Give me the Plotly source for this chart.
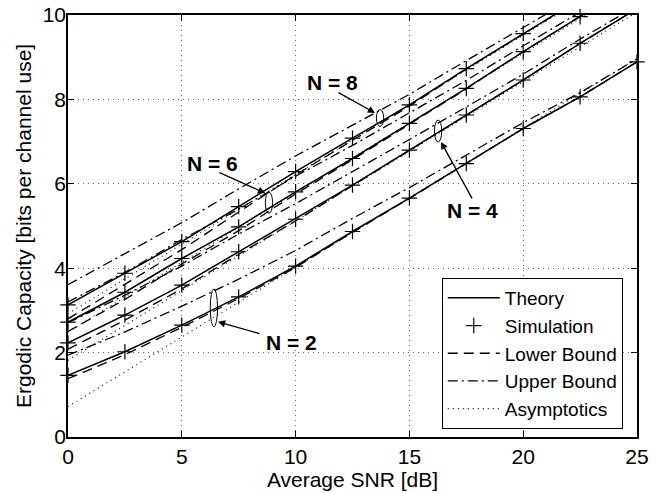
import plotly.graph_objects as go

# ---------------- data ----------------
SNR_DB = [0, 2.5, 5, 7.5, 10, 12.5, 15, 17.5, 20, 22.5, 25]

THEORY_N2 = [1.46, 2.02, 2.65, 3.32, 4.05, 4.87, 5.66, 6.48, 7.31, 8.06, 8.89]
THEORY_N4 = [2.23, 2.89, 3.60, 4.39, 5.16, 5.97, 6.80, 7.63, 8.46, 9.33, 10.15]
THEORY_N6 = [2.72, 3.43, 4.23, 4.98, 5.81, 6.60, 7.43, 8.26, 9.13, 9.96, 10.80]
THEORY_N8 = [3.13, 3.88, 4.63, 5.46, 6.29, 7.08, 7.87, 8.73, 9.56, 10.40, 11.20]

SIM_N2 = [1.46, 2.02, 2.65, 3.32, 4.05, 4.87, 5.66, 6.48, 7.31, 8.06, 8.89]
SIM_N4 = [2.23, 2.89, 3.60, 4.39, 5.16, 5.97, 6.80, 7.63, 8.46, 9.33, None]
SIM_N6 = [2.72, 3.43, 4.23, 4.98, 5.81, 6.60, 7.43, 8.26, 9.13, 9.96, None]
SIM_N8 = [3.13, 3.88, 4.63, 5.46, 6.29, 7.08, 7.87, 8.73, 9.56, None, None]

LOWER_N2 = [1.38, 1.95, 2.60, 3.28, 4.02, 4.85, 5.65, 6.48, 7.31, 8.06, 8.89]
LOWER_N4 = [2.08, 2.77, 3.51, 4.33, 5.12, 5.95, 6.78, 7.62, 8.46, 9.33, 10.15]
LOWER_N6 = [2.50, 3.26, 4.10, 4.89, 5.76, 6.57, 7.41, 8.25, 9.13, 9.96, 10.80]
LOWER_N8 = [2.80, 3.62, 4.44, 5.33, 6.21, 7.03, 7.84, 8.72, 9.56, 10.40, 11.20]

UPPER_N2 = [1.94, 2.49, 3.10, 3.74, 4.42, 5.18, 5.91, 6.67, 7.45, 8.16, 8.96]
UPPER_N4 = [2.71, 3.36, 4.05, 4.81, 5.53, 6.28, 7.05, 7.82, 8.60, 9.43, 10.22]
UPPER_N6 = [3.20, 3.90, 4.68, 5.40, 6.18, 6.91, 7.68, 8.45, 9.27, 10.06, 10.87]
UPPER_N8 = [3.61, 4.35, 5.08, 5.88, 6.66, 7.39, 8.12, 8.92, 9.70, 10.50, 11.27]

ASYM_SNR = [0, 5, 10, 15, 20, 25]
ASYM_N2 = [0.72, 2.37, 4.02, 5.67, 7.32, 8.97]
ASYM_N4 = [1.82, 3.47, 5.12, 6.77, 8.42, 10.07]
ASYM_N6 = [2.49, 4.14, 5.79, 7.44, 9.09, 10.74]
ASYM_N8 = [2.92, 4.57, 6.22, 7.87, 9.52, 11.17]

N_LABELS = ["N = 2", "N = 4", "N = 6", "N = 8"]
X_TICKS = [0, 5, 10, 15, 20, 25]
Y_TICKS = [0, 2, 4, 6, 8, 10]

# ---------------- figure ----------------
FONT = "Liberation Sans, Arial, Helvetica, sans-serif"
fig = go.Figure()

def add_group(ys_list, xs, name, rank, **style):
    for i, ys in enumerate(ys_list):
        fig.add_trace(go.Scatter(
            x=xs, y=ys, name=name, showlegend=(i == 0),
            legendrank=rank, **style))

add_group([ASYM_N2, ASYM_N4, ASYM_N6, ASYM_N8], ASYM_SNR, "Asymptotics", 5,
          mode="lines", line=dict(color="black", width=1.1, dash="1px,4px"))
add_group([UPPER_N2, UPPER_N4, UPPER_N6, UPPER_N8], SNR_DB, "Upper Bound", 4,
          mode="lines", line=dict(color="black", width=1.3, dash="10px,4px,2px,4px"))
add_group([LOWER_N2, LOWER_N4, LOWER_N6, LOWER_N8], SNR_DB, "Lower Bound", 3,
          mode="lines", line=dict(color="black", width=1.3, dash="10px,6px"))
add_group([THEORY_N2, THEORY_N4, THEORY_N6, THEORY_N8], SNR_DB, "Theory", 1,
          mode="lines", line=dict(color="black", width=1.5))
add_group([SIM_N2, SIM_N4, SIM_N6, SIM_N8], SNR_DB, "Simulation", 2,
          mode="markers", cliponaxis=False,
          marker=dict(symbol="cross-thin", size=11, color="black",
                      line=dict(color="black", width=1.2)))

# ellipses marking each group (data coords)
ELLIPSES = [  # (cx, cy, half-width, half-height)
    (6.41, 3.06, 0.16, 0.45),
    (16.26, 7.25, 0.16, 0.26),
    (8.83, 5.55, 0.16, 0.25),
    (13.71, 7.56, 0.16, 0.20),
]
for cx, cy, hw, hh in ELLIPSES:
    fig.add_shape(type="circle", xref="x", yref="y",
                  x0=cx - hw, x1=cx + hw, y0=cy - hh, y1=cy + hh,
                  line=dict(color="black", width=1))

# arrows: (tip x, tip y, tail x, tail y), labels: (x, y)
ARROWS = [
    (6.59, 2.73, 8.48, 2.44),
    (16.39, 6.99, 17.79, 5.62),
    (8.66, 5.78, 6.59, 6.28),
    (13.49, 7.68, 11.82, 8.18),
]
LABEL_POS = [(9.84, 2.23), (17.79, 5.36), (6.37, 6.47), (11.64, 8.39)]
for (tx, ty, sx, sy), (lx, ly), lab in zip(ARROWS, LABEL_POS, N_LABELS):
    fig.add_annotation(x=tx, y=ty, ax=sx, ay=sy, xref="x", yref="y",
                       axref="x", ayref="y", text="", showarrow=True,
                       arrowhead=2, arrowsize=1.1, arrowwidth=1.3,
                       arrowcolor="black")
    fig.add_annotation(x=lx, y=ly, xref="x", yref="y", text="<b>%s</b>" % lab,
                       showarrow=False, font=dict(family=FONT, size=21, color="black"))

# y-axis title placed as rotated text at the reference's position
fig.add_annotation(x=-0.079, y=0.5, xref="paper", yref="paper",
                   text="Ergodic Capacity [bits per channel use]", textangle=-90,
                   showarrow=False, xanchor="center", yanchor="middle",
                   font=dict(family=FONT, size=21, color="black"))

axis_common = dict(
    showline=True, linecolor="black", linewidth=1.5, mirror="allticks",
    ticks="inside", ticklen=6, tickwidth=1, tickcolor="black",
    showgrid=True, gridcolor="#666666", gridwidth=1, griddash="1px,4px",
    zeroline=False, automargin=False, ticklabeloverflow="allow",
    tickfont=dict(family=FONT, size=21, color="black"),
)
fig.update_xaxes(range=[0, 25], tickvals=X_TICKS,
                 title=dict(text="Average SNR [dB]", standoff=2,
                            font=dict(family=FONT, size=21, color="black")),
                 **axis_common)
fig.update_yaxes(range=[0, 10], tickvals=Y_TICKS, ticklabelstandoff=-4,
                 **axis_common)

# plot area lands at x 68..637, y 15..437 like the reference
fig.update_layout(
    width=661, height=493,
    margin=dict(l=68, r=24, t=15, b=56),
    paper_bgcolor="white", plot_bgcolor="white",
    font=dict(family=FONT, color="black"),
    legend=dict(x=0.975, y=0.019, xanchor="right", yanchor="bottom",
                bgcolor="white", bordercolor="black", borderwidth=1,
                font=dict(family=FONT, size=19, color="black"),
                tracegroupgap=0, itemwidth=52),
    showlegend=True,
)

# remove the default 8px page margin so the figure fills the window exactly
fig.write_html("out.html", config={"displayModeBar": False},
               post_script="document.body.style.margin='0px';")
